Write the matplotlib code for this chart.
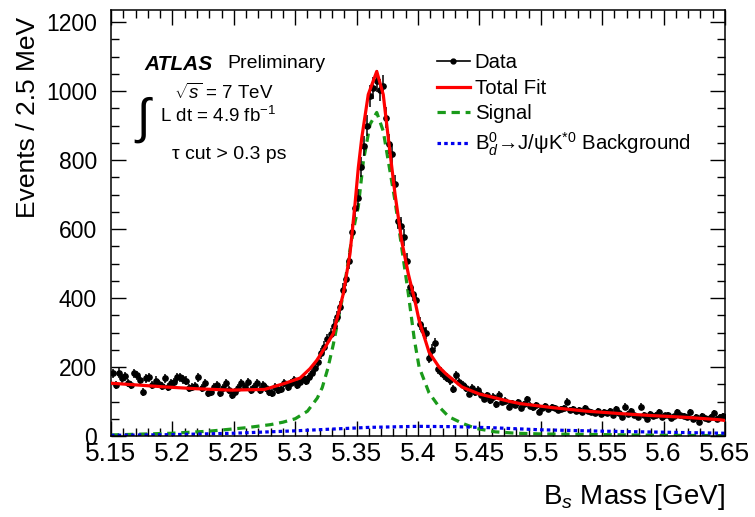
import numpy as np
import matplotlib.pyplot as plt
from matplotlib.lines import Line2D
from matplotlib.ticker import MultipleLocator, FixedLocator, FixedFormatter

plt.rcParams['font.family'] = ['Liberation Sans', 'DejaVu Sans']
plt.rcParams['mathtext.fontset'] = 'custom'
plt.rcParams['mathtext.rm'] = 'Liberation Sans'
plt.rcParams['mathtext.it'] = 'Liberation Sans:italic'

# Data: events per 2.5 MeV bin, 5.15 - 5.65 GeV (200 bins)
counts = [
    182, 147, 183, 167, 173, 154, 147, 182, 176, 162, 128, 167, 170, 147, 160, 150,
    144, 167, 142, 153, 157, 171, 170, 165, 160, 139, 141, 144, 170, 139, 153, 124,
    128, 142, 147, 124, 139, 153, 133, 118, 128, 139, 153, 142, 157, 133, 142, 154,
    133, 147, 139, 128, 124, 142, 133, 136, 153, 142, 154, 162, 147, 157, 167,
    160, 170, 182, 196, 215, 240, 258, 280, 297, 320, 345, 373, 422, 455, 508, 590,
    662, 691, 780, 840, 900, 985, 1009, 1030, 1004, 1014, 922, 846, 817, 731, 624, 609,
    576, 508, 431, 413,
    393, 326, 306, 299, 227, 250, 269, 193, 186, 176, 169, 162, 137, 176, 157, 147,
    140, 123, 138, 128, 133, 120, 108, 118, 104, 113, 92, 119, 99, 102, 85, 95,
    90, 98, 80, 92, 106, 88, 83, 90, 70, 82, 87, 79, 84, 80, 74, 77,
    82, 99, 75, 77, 72, 75, 70, 80, 73, 69, 66, 72, 64, 70, 67, 73,
    62, 77, 68, 56, 85, 65, 73, 60, 56, 85, 62, 49, 64, 58, 62, 70,
    55, 60, 61, 52, 57, 70, 60, 58, 54, 70, 50, 55, 41, 58, 52, 48,
    56, 66, 50, 56, 59,
]
bin_lo = 5.15
bin_w = 0.0025

# Total fit curve
fit_x = [5.15, 5.175, 5.195, 5.22, 5.2475, 5.275, 5.291, 5.304, 5.312, 5.3175,
         5.324, 5.331, 5.3392, 5.3446, 5.3487, 5.3514, 5.3542, 5.3595, 5.3664,
         5.3717, 5.3758, 5.3813, 5.3867, 5.3921, 5.3976, 5.4009, 5.409, 5.4171,
         5.4228, 5.4358, 5.4497, 5.4749, 5.483, 5.510, 5.5374, 5.5645, 5.5914,
         5.6188, 5.6459, 5.65]
fit_y = [153, 147, 142, 137, 133, 135, 152, 168, 195, 219,
         255, 297, 413, 528, 672, 778, 864, 990, 1057,
         990, 864, 701, 566, 470, 390, 335, 243, 200,
         180, 142, 122, 100, 94, 82, 72, 65, 59,
         54, 47, 45]

# Signal component
sig_x = [5.15, 5.20, 5.23, 5.26, 5.28, 5.29, 5.30, 5.31, 5.318, 5.322, 5.3265,
         5.331, 5.3335, 5.3392, 5.3446, 5.3487, 5.3514, 5.3555, 5.361, 5.3664,
         5.3717, 5.3758, 5.3813, 5.3867, 5.3921, 5.397, 5.4009, 5.409, 5.4171,
         5.425, 5.436, 5.447, 5.463, 5.48, 5.5, 5.6, 5.65]
sig_y = [3, 8, 14, 24, 33, 40, 50, 72, 110, 140, 195,
         265, 310, 413, 540, 620, 665, 797, 904, 938,
         884, 797, 681, 547, 413, 280, 200, 125, 85,
         56, 37, 22, 12, 8, 6, 2, 1]

# B_d -> J/psi K*0 background component
bd_x = [5.15, 5.2, 5.25, 5.3, 5.33, 5.36, 5.40, 5.43, 5.46, 5.5, 5.55, 5.6, 5.65]
bd_y = [2, 4, 8, 15, 20, 25, 28, 27, 24, 18, 14, 11, 8]

x_ticks = [5.15, 5.2, 5.25, 5.3, 5.35, 5.4, 5.45, 5.5, 5.55, 5.6, 5.65]
x_tick_labels = ['5.15', '5.2', '5.25', '5.3', '5.35', '5.4', '5.45', '5.5',
                 '5.55', '5.6', '5.65']

counts = np.array(counts, dtype=float)
centers = bin_lo + bin_w * (np.arange(len(counts)) + 0.5)

fig = plt.figure(figsize=(7.55, 5.17), dpi=100)
ax = fig.add_axes([111 / 755, 1 - 436 / 517, 614 / 755, 426 / 517])

ax.errorbar(centers, counts, yerr=np.sqrt(counts), xerr=bin_w / 2, fmt='o',
            color='black', ms=3.8, elinewidth=1.1, capsize=0, zorder=3)
ax.plot(fit_x, fit_y, color='#ff0000', lw=2.3, zorder=4)
ax.plot(sig_x, sig_y, color='#1a9a1a', lw=2.3, ls=(0, (2.6, 1.8)), zorder=2)
ax.plot(bd_x, bd_y, color='#0000ee', lw=2.3, ls=(0, (1.1, 1.0)), zorder=2)

ax.set_xlim(5.15, 5.65)
ax.set_ylim(0, 1235)

ax.xaxis.set_major_locator(FixedLocator(x_ticks))
ax.xaxis.set_major_formatter(FixedFormatter(x_tick_labels))
ax.xaxis.set_minor_locator(MultipleLocator(0.01))
ax.yaxis.set_major_locator(MultipleLocator(200))
ax.yaxis.set_minor_locator(MultipleLocator(50))
ax.tick_params(which='both', direction='in', top=True, right=True, width=1.0)
ax.tick_params(which='major', length=11)
ax.tick_params(which='minor', length=6)
ax.tick_params(axis='x', pad=4, labelsize=19)
ax.tick_params(axis='y', pad=10, labelsize=16.5)
for s in ax.spines.values():
    s.set_linewidth(1.1)

fig.text(725 / 755, 1 - 497 / 517, 'B$_{s}$ Mass [GeV]', ha='right',
         va='center', fontsize=20)
fig.text(28 / 755, 1 - 17 / 517, 'Events / 2.5 MeV', ha='center', va='top',
         rotation=90, fontsize=19)

# ATLAS label block
fig.text(144 / 755, 1 - 64 / 517, 'ATLAS', fontsize=15, fontweight='bold',
         fontstyle='italic', va='center')
fig.text(227 / 755, 1 - 64 / 517, 'Preliminary', fontsize=14, va='center')
fig.text(174 / 755, 1 - 93 / 517, r'$\sqrt{s}$ = 7 TeV', fontsize=13.5, va='center')
fig.text(136 / 755, 1 - 120 / 517, '\u222b', fontsize=35, va='center')
fig.text(160 / 755, 1 - 116 / 517, 'L dt = 4.9 fb$^{-1}$', fontsize=13.5, va='center')
fig.text(172 / 755, 1 - 155 / 517, '\u03c4 cut > 0.3 ps', fontsize=14, va='center')

handles = [
    Line2D([], [], color='black', lw=1.2, marker='o', ms=3.5),
    Line2D([], [], color='#ff0000', lw=2.3),
    Line2D([], [], color='#1a9a1a', lw=2.3, ls=(0, (2.6, 1.8))),
    Line2D([], [], color='#0000ee', lw=2.3, ls=(0, (1.1, 1.0))),
]
labels = ['Data', 'Total Fit', 'Signal',
          'B$_{d}^{0}$\u2192J/\u03c8K$^{*0}$ Background']
ax.legend(handles, labels, loc='upper left',
          bbox_to_anchor=(437 / 755, 1 - 53 / 517), bbox_transform=fig.transFigure,
          frameon=False, fontsize=14.7, handlelength=1.6, handletextpad=0.25,
          labelspacing=0.33, borderpad=0, borderaxespad=0)

fig.savefig('out.png', dpi=100)
